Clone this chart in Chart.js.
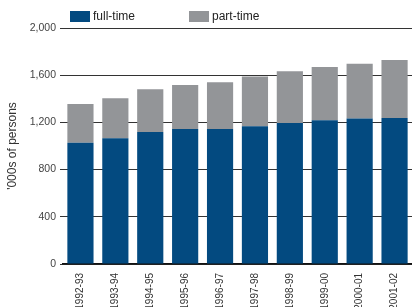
<!DOCTYPE html>
<html>
<head>
<meta charset="utf-8">
<script src="https://cdn.jsdelivr.net/npm/chart.js@4/dist/chart.umd.min.js"></script>
<style>
  html, body { margin: 0; padding: 0; background: #fff; }
  #wrap { width: 412px; height: 307px; }
</style>
</head>
<body>
<div id="wrap"><canvas id="staffChart"></canvas></div>
<script>
// Data ('000s of persons)
const years = ['1992-93', '1993-94', '1994-95', '1995-96', '1996-97',
               '1997-98', '1998-99', '1999-00', '2000-01', '2001-02'];
const fullTime = [1028, 1065, 1119, 1144, 1144, 1167, 1195, 1218, 1232, 1237];
const partTime = [328, 339, 361, 373, 396, 421, 438, 451, 465, 492];
const yTicks = [0, 400, 800, 1200, 1600, 2000];

const BLUE = '#034a80';
const GREY = '#939598';

// simple legend drawn above the plot, like the original
const topLegend = {
  id: 'topLegend',
  afterDraw(chart) {
    const ctx = chart.ctx;
    const xs = [70, 189];
    ctx.save();
    ctx.font = '12px "Liberation Sans", Arial, sans-serif';
    ctx.textBaseline = 'middle';
    chart.data.datasets.forEach((ds, i) => {
      ctx.fillStyle = ds.backgroundColor;
      ctx.fillRect(xs[i], 11, 20, 11);
      ctx.fillStyle = '#222';
      ctx.fillText(ds.label, xs[i] + 23, 17);
    });
    ctx.restore();
  }
};

new Chart(document.getElementById('staffChart').getContext('2d'), {
  type: 'bar',
  data: {
    labels: years,
    datasets: [
      { label: 'full-time', data: fullTime, backgroundColor: BLUE },
      { label: 'part-time', data: partTime, backgroundColor: GREY }
    ]
  },
  options: {
    responsive: true,
    maintainAspectRatio: false,
    animation: false,
    layout: { padding: { top: 28, right: 0, left: 0, bottom: 0 } },
    plugins: { legend: { display: false }, tooltip: { enabled: false } },
    datasets: { bar: { barPercentage: 0.75, categoryPercentage: 1 } },
    scales: {
      x: {
        stacked: true,
        grid: { display: false },
        border: { display: true, color: '#111', width: 1.5 },
        ticks: {
          color: '#333', minRotation: 90, maxRotation: 90, autoSkip: false, padding: 1,
          font: { family: '"Liberation Sans", Arial, sans-serif', size: 10 }
        },
        afterFit(scale) { scale.height = 43; }
      },
      y: {
        stacked: true,
        min: 0, max: 2000,
        afterBuildTicks(scale) { scale.ticks = yTicks.map(v => ({ value: v })); },
        grid: { color: '#333', lineWidth: 1, tickLength: 3, drawTicks: true },
        border: { display: false },
        ticks: {
          color: '#444', padding: 4,
          font: { family: '"Liberation Sans", Arial, sans-serif', size: 10.5 },
          callback: v => v.toLocaleString('en-US')
        },
        title: {
          display: true, text: "'000s of persons", color: '#333', padding: { top: 5, bottom: 0 },
          font: { family: '"Liberation Sans", Arial, sans-serif', size: 12 }
        },
        afterFit(scale) { scale.width = 63; }
      }
    }
  },
  plugins: [topLegend]
});
</script>
</body>
</html>
